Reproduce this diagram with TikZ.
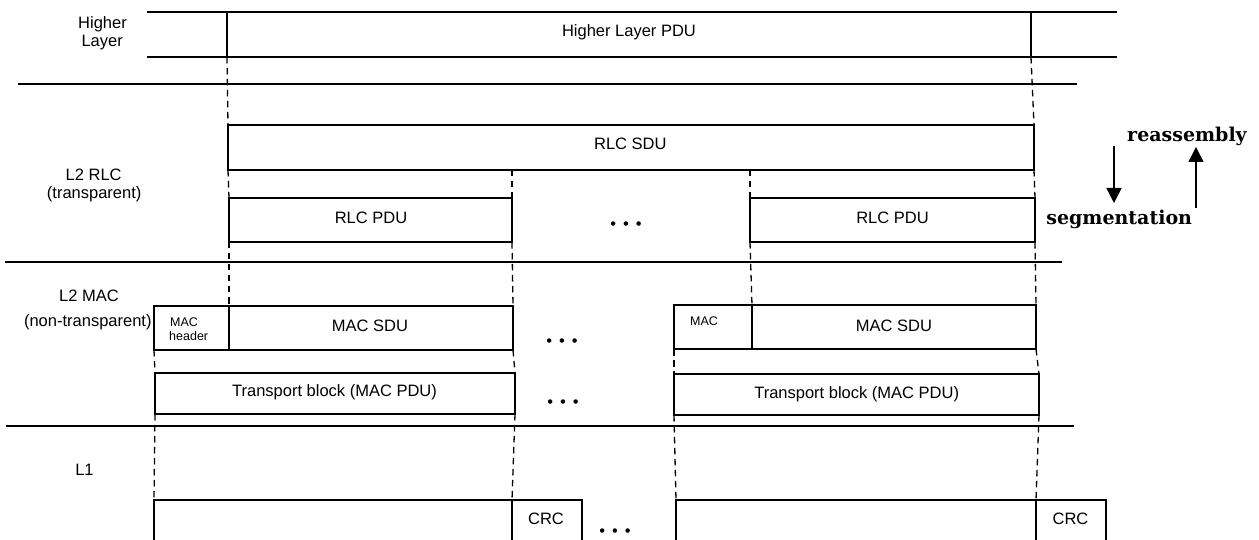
\documentclass[tikz,border=0pt]{standalone}
\usepackage{fontspec}
\setmainfont{Liberation Sans}
\newfontfamily\dvserif{DejaVu Serif}
\usetikzlibrary{arrows.meta}
\begin{document}
\begin{tikzpicture}[x=1pt,y=-1pt,
  blk/.style={draw, line width=1.4pt, inner sep=0pt, outer sep=0pt, anchor=north west},
  sepline/.style={line width=1.3pt},
  solidline/.style={line width=1.4pt},
  dashline/.style={line width=1.3pt, dash pattern=on 6.5pt off 4.5pt},
  lbl/.style={inner sep=0pt, anchor=base, font=\fontsize{16.5}{19}\selectfont},
  small/.style={inner sep=0pt, anchor=base west, font=\fontsize{12.5}{14}\selectfont},
  bigserif/.style={inner sep=0pt, anchor=base, font=\dvserif\bfseries\fontsize{19}{22}\selectfont},
  dotsnode/.style={inner sep=0pt, font=\fontsize{16.5}{19}\selectfont},
  arr/.style={line width=1.4pt, -{Triangle[width=15pt,length=15pt]}}
]
\useasboundingbox (0,0) rectangle (1259,540);
\clip (0,0) rectangle (1259,540);

% ---- Higher layer ----
\node[blk, draw=none, minimum width=804pt, minimum height=45pt] (hlpdu) at (227,12) {};
\coordinate (htl) at (147,12);
\coordinate (htr) at (1117,12);
\coordinate (hbl) at (147,57);
\coordinate (hbr) at (1117,57);
\draw[solidline] (htl) -- (htr);
\draw[solidline] (hbl) -- (hbr);
\draw[solidline] (hlpdu.north west) -- (hlpdu.south west);
\draw[solidline] (hlpdu.north east) -- (hlpdu.south east);
\node[lbl] (hltxt) at (629,36.7) {Higher Layer PDU};

% ---- separators ----
\coordinate (s1a) at (18,84);   \coordinate (s1b) at (1077,84);
\coordinate (s2a) at (5,262);   \coordinate (s2b) at (1062,262);
\coordinate (s3a) at (6,426);   \coordinate (s3b) at (1074,426);
\draw[sepline] (s1a) -- (s1b);
\draw[sepline] (s2a) -- (s2b);
\draw[sepline] (s3a) -- (s3b);

% ---- RLC ----
\node[blk, minimum width=806pt, minimum height=45pt] (rlcsdu) at (228,125) {};
\node[lbl] (rlcsdutxt) at (630.3,149.3) {RLC SDU};
\node[blk, minimum width=283pt, minimum height=44pt] (rlcpdu1) at (229,198) {};
\node[blk, minimum width=285pt, minimum height=44pt] (rlcpdu2) at (750,198) {};
\node[lbl] (rlcpdu1txt) at (371,223.5) {RLC PDU};
\node[lbl] (rlcpdu2txt) at (892.5,223.5) {RLC PDU};
\node[dotsnode] (dotsA) at (626,225.7) {•\hspace{6.9pt}•\hspace{6.9pt}•};

% ---- MAC ----
\node[blk, minimum width=75pt, minimum height=44pt] (machdr1) at (154,306) {};
\node[blk, minimum width=284pt, minimum height=44pt] (macsdu1) at (229,306) {};
\node[blk, minimum width=78pt, minimum height=44pt] (mac2) at (674,305) {};
\node[blk, minimum width=284pt, minimum height=44pt] (macsdu2) at (752,305) {};
\node[small] (machdrA) at (170,326.7) {MAC};
\node[small] (machdrB) at (169,340.7) {header};
\node[small] (mac2txt) at (690,325.7) {MAC};
\node[lbl] (macsdu1txt) at (370,331) {MAC SDU};
\node[lbl] (macsdu2txt) at (894,331) {MAC SDU};
\node[dotsnode] (dotsB) at (562,342.7) {•\hspace{6.9pt}•\hspace{6.9pt}•};

\node[blk, minimum width=360pt, minimum height=41pt] (tb1) at (155,373) {};
\node[blk, minimum width=365pt, minimum height=41pt] (tb2) at (674,374) {};
\node[lbl] (tb1txt) at (334.5,396.5) {Transport block (MAC PDU)};
\node[lbl] (tb2txt) at (856.7,398.5) {Transport block (MAC PDU)};
\node[dotsnode] (dotsC) at (563,404) {•\hspace{6.9pt}•\hspace{6.9pt}•};

% ---- L1 ----
\node[blk, minimum width=358pt, minimum height=60pt] (l1a) at (154,500) {};
\node[blk, minimum width=70pt, minimum height=60pt] (crc1) at (512,500) {};
\node[blk, minimum width=360pt, minimum height=60pt] (l1b) at (676,500) {};
\node[blk, minimum width=70pt, minimum height=60pt] (crc2) at (1036,500) {};
\node[lbl] (crc1txt) at (546,524.5) {CRC};
\node[lbl] (crc2txt) at (1070.5,524.3) {CRC};
\node[dotsnode] (dotsD) at (615,533) {•\hspace{6.9pt}•\hspace{6.9pt}•};

% ---- layer labels ----
\node[lbl] (lHigher) at (102.5,28.3) {Higher};
\node[lbl] (lLayer) at (102.2,46.7) {Layer};
\node[lbl] (lRLC) at (93.7,180.7) {L2 RLC};
\node[lbl] (lRLCt) at (94.2,199) {(transparent)};
\node[lbl] (lMAC) at (89,301.7) {L2 MAC};
\node[lbl] (lMACt) at (87.8,326.7) {(non-transparent)};
\node[lbl] (lL1) at (84.5,475) {L1};

% ---- dashed connectors ----
\draw[dashline] (hlpdu.south west) -- (rlcsdu.north west);
\draw[dashline] (hlpdu.south east) -- (rlcsdu.north east);
\draw[dashline] (rlcsdu.south west) -- (rlcpdu1.north west);
\draw[dashline] (rlcpdu1.north east |- rlcsdu.south) -- (rlcpdu1.north east);
\draw[dashline] (rlcpdu2.north west |- rlcsdu.south) -- (rlcpdu2.north west);
\draw[dashline] (rlcsdu.south east) -- (rlcpdu2.north east);
\draw[dashline] (rlcpdu1.south west) -- (macsdu1.north west);
\draw[dashline] (rlcpdu1.south east) -- (macsdu1.north east);
\draw[dashline] (rlcpdu2.south west) -- (macsdu2.north west);
\draw[dashline] (rlcpdu2.south east) -- (macsdu2.north east);
\draw[dashline] (machdr1.south west) -- (tb1.north west);
\draw[dashline] (macsdu1.south east) -- (tb1.north east);
\draw[dashline] (mac2.south west) -- (tb2.north west);
\draw[dashline] (macsdu2.south east) -- (tb2.north east);
\draw[dashline] (tb1.south west) -- (l1a.north west);
\draw[dashline] (tb1.south east) -- (l1a.north east);
\draw[dashline] (tb2.south west) -- (l1b.north west);
\draw[dashline] (tb2.south east) -- (l1b.north east);

% ---- segmentation / reassembly ----
\coordinate (segS) at (1114,146);
\coordinate (segE) at (1114,203);
\coordinate (reaS) at (1196,208);
\coordinate (reaE) at (1196,147);
\draw[arr] (segS) -- (segE);
\draw[arr] (reaS) -- (reaE);
\node[bigserif] (reatxt) at (1187,141.7) {reassembly};
\node[bigserif] (segtxt) at (1119.2,225) {segmentation};
\end{tikzpicture}
\end{document}
